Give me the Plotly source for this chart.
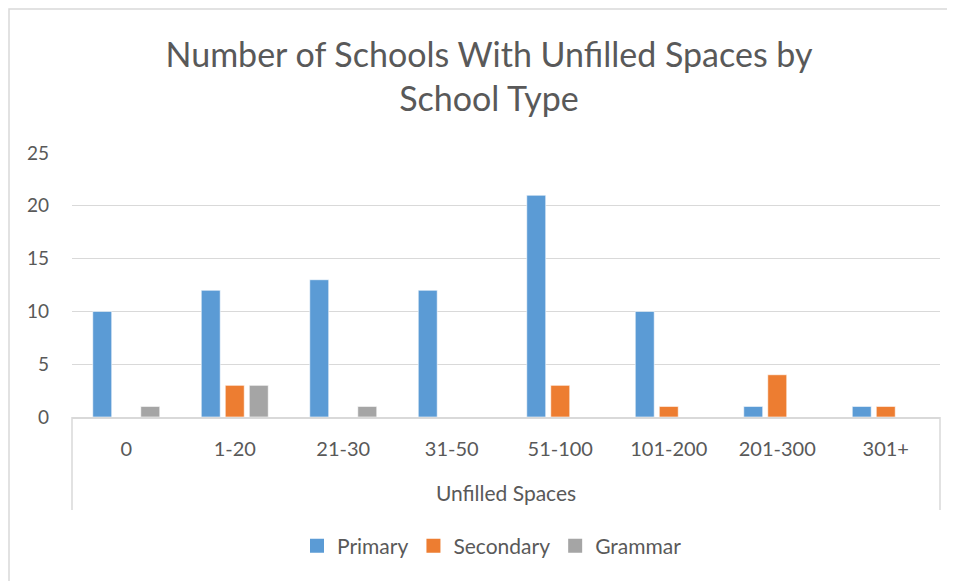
import plotly.graph_objects as go

categories = ["0", "1-20", "21-30", "31-50", "51-100", "101-200", "201-300", "301+"]
primary = [10, 12, 13, 12, 21, 10, 1, 1]
secondary = [0, 3, 0, 0, 3, 1, 4, 1]
grammar = [1, 3, 1, 0, 0, 0, 0, 0]
y_ticks = [0, 5, 10, 15, 20, 25]

OFF = 8  # body margin of the html page
W, H = 955 - OFF, 581 - OFF
# plot area in page pixels: x 72..940, y 153..417
L, T = 72 - OFF, 153 - OFF
R = W - (940 - OFF)
B = H - (417 - OFF)
PW, PH = W - L - R, H - T - B

def px(x):  # page pixel -> paper x
    return (x - OFF - L) / PW

def py(y):  # page pixel -> paper y
    return (H - B - (y - OFF)) / PH

FONT = "Lato"
GREY = "#595959"

fig = go.Figure()
for name, vals, col in [("Primary", primary, "#5B9BD5"),
                        ("Secondary", secondary, "#ED7D31"),
                        ("Grammar", grammar, "#A5A5A5")]:
    fig.add_bar(x=categories, y=vals, name=name, showlegend=False,
                marker=dict(color=col, line=dict(color="rgba(255,255,255,0.6)", width=1)))
    fig.add_scatter(x=[None], y=[None], mode="markers", name=name, showlegend=True,
                    marker=dict(symbol="square", size=14, color=col))

shapes = [
    dict(type="line", xref="paper", yref="paper", x0=0, x1=0, y0=0, y1=py(510),
         line=dict(color="#d9d9d9", width=1.5)),
    dict(type="line", xref="paper", yref="paper", x0=1, x1=1, y0=0, y1=py(510),
         line=dict(color="#d9d9d9", width=1.5)),
    dict(type="rect", xref="paper", yref="paper", x0=px(9), x1=px(990), y0=py(600), y1=py(9),
         line=dict(color="#d9d9d9", width=1.5), layer="below"),
]

fig.update_layout(
    width=W, height=H,
    margin=dict(l=L, r=R, t=T, b=B),
    paper_bgcolor="white", plot_bgcolor="white",
    font=dict(family=FONT, color=GREY, size=20),
    title=dict(text="Number of Schools With Unfilled Spaces by<br>School Type",
               x=px(489), xref="paper", xanchor="center",
               y=1 - (67 - OFF) / H, yanchor="middle",
               font=dict(family=FONT, size=34, color=GREY)),
    barmode="group", bargap=0.336, bargroupgap=0.21,
    showlegend=True,
    legend=dict(orientation="h", x=px(492), xanchor="center", y=py(546), yanchor="middle",
                font=dict(size=21, color=GREY), traceorder="normal", itemwidth=30,
                tracegroupgap=0),
    shapes=shapes,
)
fig.update_yaxes(range=[0, 25], tickvals=y_ticks, showgrid=True, gridcolor="#d9d9d9",
                 gridwidth=1, zeroline=False, showline=False, ticks="",
                 ticklabelstandoff=22, tickfont=dict(size=19, color=GREY))
fig.update_xaxes(showline=True, linecolor="#d9d9d9", linewidth=1.5, ticks="",
                 ticklabelstandoff=13, tickfont=dict(size=20, color=GREY),
                 title=dict(text="Unfilled Spaces", standoff=28, font=dict(size=21, color=GREY)))

fig.write_html("out.html")
